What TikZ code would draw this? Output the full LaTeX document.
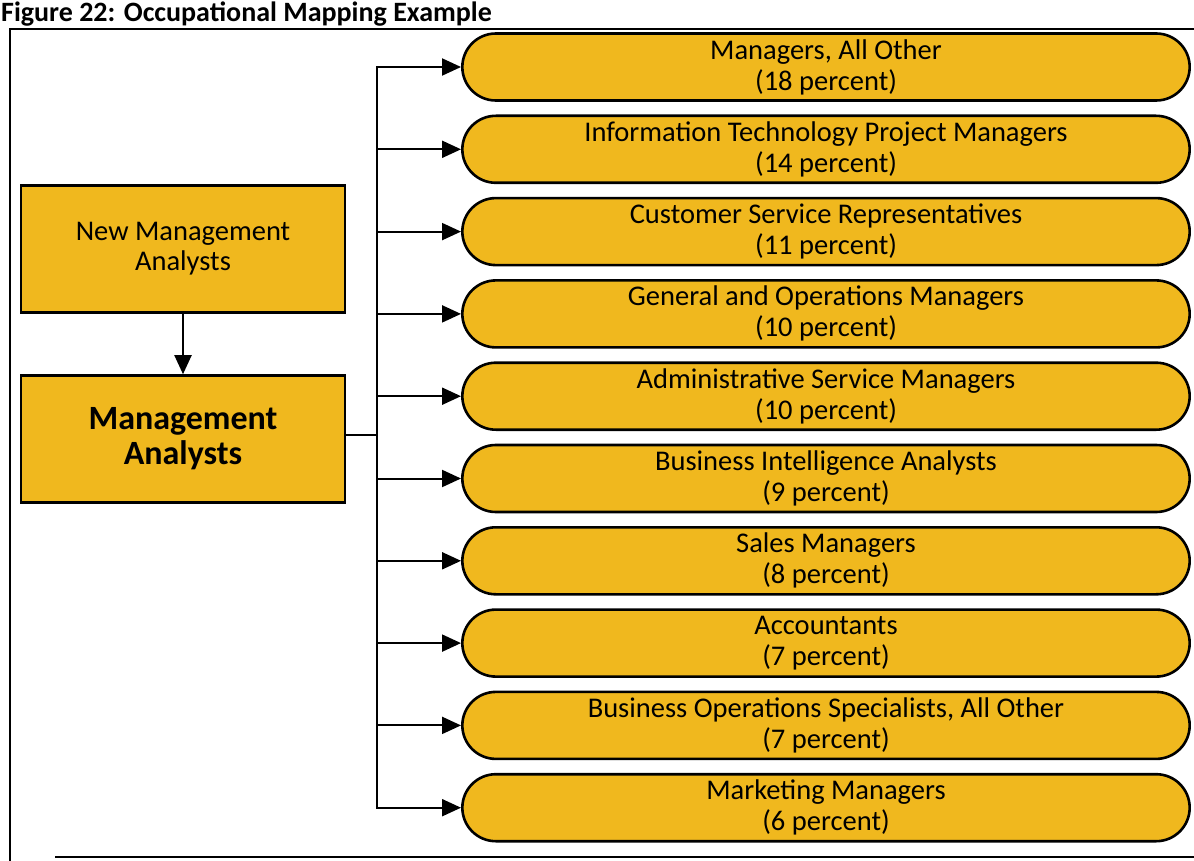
\documentclass[tikz,border=0pt]{standalone}
\usepackage{fontspec}
\setmainfont{Carlito}
\usetikzlibrary{positioning,shapes.misc,arrows.meta}
\definecolor{gold}{RGB}{240,184,30}

\begin{document}
\begin{tikzpicture}[
  x=1pt, y=-1pt,
  box/.style={rectangle, draw, line width=2.6pt, fill=gold, minimum width=324pt, minimum height=127pt, align=center},
  pill/.style={rounded rectangle, draw, line width=2.6pt, fill=gold, minimum width=734pt, minimum height=67pt, align=center, font=\fontsize{28.5}{31}\selectfont},
  link/.style={-{Triangle[length=19pt,width=17pt]}, line width=2pt},
  node distance=82.3pt
]
\useasboundingbox (0,0) rectangle (1194,861);

% title and frame
\node[anchor=base west, inner sep=0pt, font=\bfseries\fontsize{28}{32}\selectfont] (title) at (1,21.5) {Figure 22: Occupational Mapping Example};
\draw[line width=2pt] (1200,29) -- (10,29) -- (10,865);
\draw[line width=2pt] (55,857) -- (1200,857);

% left column
\node[box, font=\fontsize{28.5}{30}\selectfont] (newma) at (183,249) {New Management\\Analysts};
\node[box, below of=newma, node distance=190pt, font=\bfseries\fontsize{34}{35}\selectfont] (ma) {Management\\Analysts};

% occupations
\node[pill] (occ1) at (826,67) {Managers, All Other\\(18 percent)};
\node[pill, below of=occ1] (occ2) {Information Technology Project Managers\\(14 percent)};
\node[pill, below of=occ2] (occ3) {Customer Service Representatives\\(11 percent)};
\node[pill, below of=occ3] (occ4) {General and Operations Managers\\(10 percent)};
\node[pill, below of=occ4] (occ5) {Administrative Service Managers\\(10 percent)};
\node[pill, below of=occ5] (occ6) {Business Intelligence Analysts\\(9 percent)};
\node[pill, below of=occ6] (occ7) {Sales Managers\\(8 percent)};
\node[pill, below of=occ7] (occ8) {Accountants\\(7 percent)};
\node[pill, below of=occ8] (occ9) {Business Operations Specialists, All Other\\(7 percent)};
\node[pill, below of=occ9] (occ10) {Marketing Managers\\(6 percent)};

\coordinate (trunk) at (377,435);

\draw[link] (newma) -- (ma);
\draw[line width=2pt] (ma.east |- trunk) -- (trunk);
\draw[link] (trunk) |- (occ1);
\draw[link] (trunk) |- (occ2);
\draw[link] (trunk) |- (occ3);
\draw[link] (trunk) |- (occ4);
\draw[link] (trunk) |- (occ5);
\draw[link] (trunk) |- (occ6);
\draw[link] (trunk) |- (occ7);
\draw[link] (trunk) |- (occ8);
\draw[link] (trunk) |- (occ9);
\draw[link] (trunk) |- (occ10);
\end{tikzpicture}
\end{document}
